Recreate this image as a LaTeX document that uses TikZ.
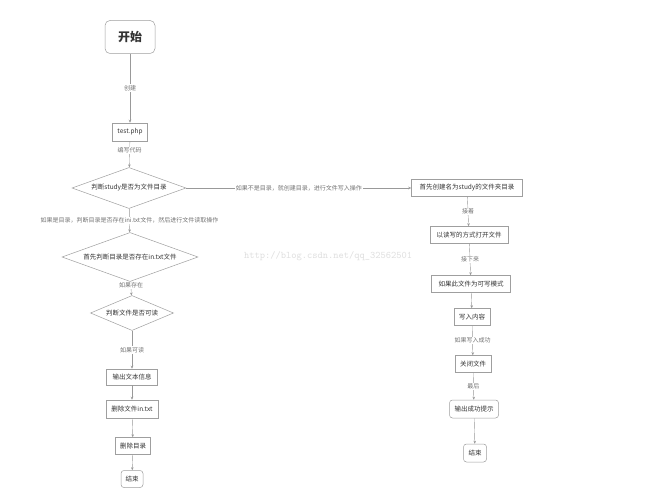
\documentclass[tikz,border=0pt]{standalone}
\usepackage{fontspec}
\setmainfont{Noto Sans CJK SC}
\usetikzlibrary{shapes.geometric,arrows.meta}
\begin{document}
\begin{tikzpicture}[x=1pt,y=-1pt,
  box/.style={draw=gray!75,line width=0.5pt,fill=white,inner sep=0pt,font=\fontsize{6.5}{7}\selectfont,text=black!80},
  rbox/.style={box,rounded corners=3pt},
  dia/.style={draw=gray!75,line width=0.5pt,fill=white,diamond,aspect=2.8,inner sep=0pt,font=\fontsize{6.5}{7}\selectfont,text=black!80},
  lab/.style={font=\fontsize{6}{7}\selectfont,text=gray!90!black,fill=white,inner sep=1pt},
  conn/.style={draw=gray!80,-{Stealth[length=3pt,width=2.5pt]}}]
\useasboundingbox[fill=white] (0,0) rectangle (646,500);
\node[font=\fontsize{10}{12}\selectfont\ttfamily,text=gray!25] (wm) at (328,256) {http://blog.csdn.net/qq\_32562501};
\node[rbox,minimum width=50pt,minimum height=33pt,font=\fontsize{12}{14}\selectfont\bfseries,rounded corners=5pt] (s) at (130,37) {开始};
\node[box,minimum width=35pt,minimum height=18pt] (t) at (130,132) {test.php};
\node[dia,minimum width=114pt,minimum height=41pt] (d1) at (129,188) {判断study是否为文件目录};
\node[box,minimum width=111pt,minimum height=17pt] (r1) at (467,188) {首先创建名为study的文件夹目录};
\node[dia,minimum width=136pt,minimum height=49pt] (d2) at (130,257) {首先判断目录是否存在in.txt文件};
\node[dia,minimum width=83pt,minimum height=35pt] (d3) at (132,313) {判断文件是否可读};
\node[box,minimum width=51pt,minimum height=16pt] (l1) at (132,377) {输出文本信息};
\node[box,minimum width=52pt,minimum height=18pt] (l2) at (132,409) {删除文件in.txt};
\node[box,minimum width=35pt,minimum height=17pt] (l3) at (133,446) {删除目录};
\node[rbox,minimum width=22pt,minimum height=17pt] (l4) at (132,479) {结束};
\node[box,minimum width=78pt,minimum height=17pt] (r2) at (469,235) {以读写的方式打开文件};
\node[box,minimum width=79pt,minimum height=17pt] (r3) at (471,284) {如果此文件为可写模式};
\node[box,minimum width=36pt,minimum height=17pt] (r4) at (472,317) {写入内容};
\node[box,minimum width=36pt,minimum height=17pt] (r5) at (473,364) {关闭文件};
\node[rbox,minimum width=49pt,minimum height=18pt] (r6) at (474,409) {输出成功提示};
\node[rbox,minimum width=23pt,minimum height=18pt] (r7) at (475,453) {结束};
\draw[conn] (s) -- node[lab]{创建} (t);
\draw[conn] (t) -- node[lab,pos=0.35]{编写代码} (d1);
\draw[conn] (d1) -- node[lab]{如果不是目录，就创建目录，进行文件写入操作} (r1);
\draw[conn] (d1) -- node[lab]{如果是目录，判断目录是否存在ini.txt文件，然后进行文件读取操作} (d2);
\draw[conn] (d2) -- node[lab,pos=0.3]{如果存在} (d3);
\draw[conn] (d3) -- node[lab]{如果可读} (l1);
\draw[conn] (l1) -- (l2);
\draw[conn] (l2) -- (l3);
\draw[conn] (l3) -- (l4);
\draw[conn] (r1) -- node[lab]{接着} (r2);
\draw[conn] (r2) -- node[lab]{接下来} (r3);
\draw[conn] (r3) -- (r4);
\draw[conn] (r4) -- node[lab]{如果写入成功} (r5);
\draw[conn] (r5) -- node[lab]{最后} (r6);
\draw[conn] (r6) -- (r7);
\end{tikzpicture}
\end{document}
